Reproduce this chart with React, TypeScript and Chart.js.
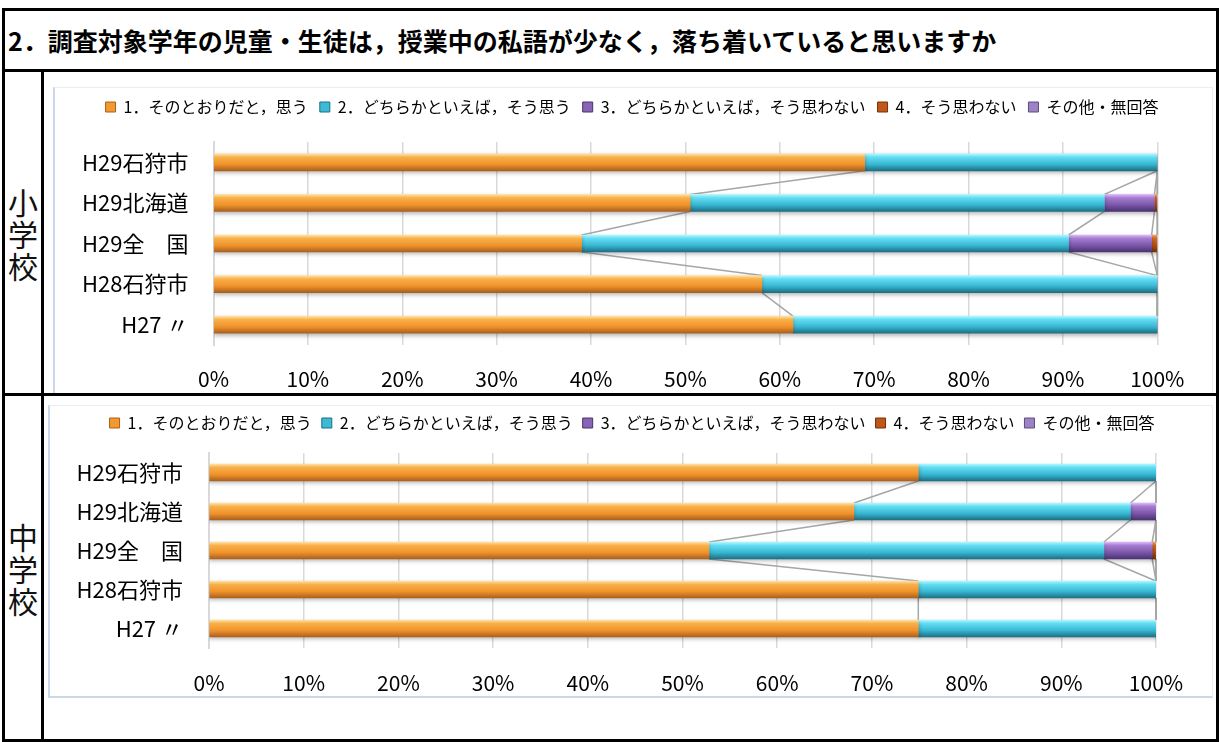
import React, { useEffect, useRef } from 'react';
import { Chart, registerables } from 'chart.js';

Chart.register(...registerables);

const FONT = "'Noto Sans CJK JP', 'Noto Sans', sans-serif";

const TITLE = '2．調査対象学年の児童・生徒は，授業中の私語が少なく，落ち着いていると思いますか';
const categories = ['H29石狩市', 'H29北海道', 'H29全　国', 'H28石狩市', 'H27 〃'];
const seriesNames = [
  '1．そのとおりだと，思う',
  '2．どちらかといえば，そう思う',
  '3．どちらかといえば，そう思わない',
  '4．そう思わない',
  'その他・無回答',
];
const xTickMin = 0;
const xTickMax = 100;
const xTickStep = 10;

// 小学校
const elemS1 = [69.0, 50.5, 39.0, 58.1, 61.4];
const elemS2 = [31.0, 43.9, 51.6, 41.9, 38.6];
const elemS3 = [0, 5.3, 8.8, 0, 0];
const elemS4 = [0, 0.3, 0.6, 0, 0];
const elemS5 = [0, 0, 0, 0, 0];

// 中学校
const juniorS1 = [74.9, 68.1, 52.8, 74.9, 74.9];
const juniorS2 = [25.1, 29.2, 41.7, 25.1, 25.1];
const juniorS3 = [0, 2.7, 5.1, 0, 0];
const juniorS4 = [0, 0, 0.4, 0, 0];
const juniorS5 = [0, 0, 0, 0, 0];

const GRADS = [
  ['#fde2a6', '#f9b04a', '#f0922a', '#a9601f'],
  ['#b2f6ff', '#62ddf3', '#38b6d2', '#1d6f84'],
  ['#dcbaf7', '#a77cd2', '#7a56a8', '#4a3270'],
  ['#f2a464', '#d46a20', '#b24f10', '#763206'],
  ['#dccaf0', '#ab94ce', '#8a72b4', '#5c4a80'],
];
const FLAT = ['#f29a2e', '#3cbad6', '#8a64b4', '#c0561a', '#9c84c4'];

const BAR = 17;

type PanelProps = {
  left: number;
  top: number;
  w: number;
  h: number;
  series: number[][];
  legendH: number;
  legendPad: number;
  legendCenter: number;
  plotLeft: number;
  plotRight: number;
  plotBottom: number;
  labelPad: number;
  tickPad: number;
};

function BarPanel(p: PanelProps) {
  const ref = useRef<HTMLCanvasElement>(null);
  useEffect(() => {
    const canvas = ref.current;
    if (!canvas) return;

    const grad = (idx: number) => (ctx: any) => {
      const ch = ctx.chart;
      const ys = ch.scales && ch.scales.y;
      if (!ys || ctx.type !== 'data' || ctx.dataIndex === undefined) return FLAT[idx];
      const yc = ys.getPixelForValue(ctx.dataIndex);
      if (!isFinite(yc)) return FLAT[idx];
      const s = GRADS[idx];
      const g = ch.ctx.createLinearGradient(0, yc - BAR / 2, 0, yc + BAR / 2);
      g.addColorStop(0, s[0]);
      g.addColorStop(0.2, s[1]);
      g.addColorStop(0.62, s[2]);
      g.addColorStop(1, s[3]);
      return g;
    };

    const legendFix = {
      id: 'legendFix',
      beforeInit(chart: any) {
        const lg = chart.legend;
        if (!lg) return;
        const fit = lg.fit;
        lg.fit = function () {
          fit.call(this);
          this.height = p.legendH;
        };
      },
      afterLayout(chart: any) {
        const lg = chart.legend;
        if (!lg) return;
        const dx = p.legendCenter - (lg.left + lg.right) / 2;
        lg.left += dx;
        lg.right += dx;
      },
    };

    const seriesLines = {
      id: 'seriesLines',
      beforeDatasetsDraw(chart: any) {
        const xs = chart.scales.x;
        const ys = chart.scales.y;
        const c = chart.ctx;
        const n = categories.length;
        let acc = new Array(n).fill(0);
        c.save();
        c.strokeStyle = '#a6a6a6';
        c.lineWidth = 1.5;
        chart.data.datasets.forEach((ds: any) => {
          acc = acc.map((a: number, i: number) => a + (ds.data[i] as number));
          for (let i = 0; i < n - 1; i++) {
            const x1 = xs.getPixelForValue(acc[i]);
            const y1 = ys.getPixelForValue(i) + BAR / 2;
            const x2 = xs.getPixelForValue(acc[i + 1]);
            const y2 = ys.getPixelForValue(i + 1) - BAR / 2;
            c.beginPath();
            c.moveTo(x1, y1);
            c.lineTo(x2, y2);
            c.stroke();
          }
        });
        c.restore();
        c.save();
        c.shadowColor = 'rgba(0,0,0,0.28)';
        c.shadowBlur = 4;
        c.shadowOffsetY = 2;
      },
      afterDatasetsDraw(chart: any) {
        chart.ctx.restore();
      },
    };

    const chart = new Chart(canvas, {
      type: 'bar',
      data: {
        labels: categories,
        datasets: p.series.map((d, i) => ({
          label: seriesNames[i],
          data: d,
          backgroundColor: grad(i) as any,
          borderWidth: 0,
          barThickness: BAR,
        })),
      },
      options: {
        indexAxis: 'y',
        responsive: false,
        animation: false,
        devicePixelRatio: 1,
        layout: { padding: { left: 0, right: p.w - p.plotRight, top: 0, bottom: 0 } },
        plugins: {
          tooltip: { enabled: false },
          legend: {
            display: true,
            position: 'top',
            align: 'center',
            labels: {
              boxWidth: 10,
              boxHeight: 10,
              padding: p.legendPad,
              color: '#1a1a1a',
              font: { family: FONT, size: 16 },
              generateLabels: () =>
                seriesNames.map((t, i) => ({
                  text: t,
                  fillStyle: FLAT[i],
                  strokeStyle: GRADS[i][3],
                  lineWidth: 1,
                  hidden: false,
                  datasetIndex: i,
                })),
            },
          },
        },
        scales: {
          x: {
            stacked: true,
            min: xTickMin,
            max: xTickMax,
            ticks: {
              stepSize: xTickStep,
              padding: p.tickPad,
              color: '#000',
              font: { family: FONT, size: 21 },
              callback: (v: any) => `${v}%`,
            },
            grid: { color: '#d9d9d9', lineWidth: 1.5, drawTicks: false },
            border: { display: false },
            afterFit: (s: any) => {
              s.height = p.h - p.plotBottom;
            },
          },
          y: {
            stacked: true,
            ticks: {
              padding: p.labelPad,
              color: '#000',
              font: { family: FONT, size: 22 },
            },
            grid: { display: false, drawTicks: false },
            border: { display: true, color: '#d9d9d9', width: 2 },
            afterFit: (s: any) => {
              s.width = p.plotLeft;
            },
          },
        },
      },
      plugins: [legendFix, seriesLines],
    });
    return () => chart.destroy();
  }, []);

  return (
    <div
      style={{
        position: 'absolute',
        left: p.left,
        top: p.top,
        width: p.w,
        height: p.h,
        boxSizing: 'border-box',
        borderTop: '1px solid #e8eef6',
        borderRight: '1px solid #e8eef6',
        borderLeft: '2px solid #cbd8ea',
        borderBottom: '2px solid #cbd8ea',
        background: '#fff',
      }}
    >
      <canvas
        ref={ref}
        width={p.w}
        height={p.h}
        style={{ position: 'absolute', left: -2, top: -1, width: p.w, height: p.h }}
      />
    </div>
  );
}

const line = (l: number, t: number, w: number, h: number) => (
  <div style={{ position: 'absolute', left: l, top: t, width: w, height: h, background: '#000' }} />
);

function SideLabel({ text, top, height }: { text: string; top: number; height: number }) {
  return (
    <div
      style={{
        position: 'absolute',
        left: 5,
        top,
        width: 36,
        height,
        display: 'flex',
        flexDirection: 'column',
        alignItems: 'center',
        justifyContent: 'center',
        fontFamily: FONT,
        fontSize: 30,
        lineHeight: '32px',
        color: '#111',
      }}
    >
      {text.split('').map((ch, i) => (
        <div key={i}>{ch}</div>
      ))}
    </div>
  );
}

export default function App() {
  return (
    <div
      style={{
        position: 'absolute',
        left: 0,
        top: 0,
        width: 1220,
        height: 742,
        background: '#fff',
        overflow: 'hidden',
      }}
    >
      <div
        style={{
          position: 'absolute',
          left: 8,
          top: 11,
          height: 58,
          display: 'flex',
          alignItems: 'center',
          fontFamily: FONT,
          fontWeight: 700,
          fontSize: 25,
          color: '#000',
          whiteSpace: 'nowrap',
        }}
      >
        {TITLE}
      </div>

      <BarPanel
        left={53}
        top={87}
        w={1160}
        h={308}
        series={[elemS1, elemS2, elemS3, elemS4, elemS5]}
        legendH={55}
        legendPad={12}
        legendCenter={579}
        plotLeft={160.5}
        plotRight={1104.3}
        plotBottom={258}
        labelPad={25}
        tickPad={21}
      />
      <BarPanel
        left={48}
        top={405}
        w={1165}
        h={293}
        series={[juniorS1, juniorS2, juniorS3, juniorS4, juniorS5]}
        legendH={48}
        legendPad={10}
        legendCenter={584}
        plotLeft={161}
        plotRight={1108}
        plotBottom={243}
        labelPad={26}
        tickPad={22}
      />

      <SideLabel text="小学校" top={72} height={321} />
      <SideLabel text="中学校" top={396} height={343} />

      {line(2, 8, 1217, 3)}
      {line(2, 8, 3, 734)}
      {line(1216, 8, 3, 734)}
      {line(2, 69, 1217, 3)}
      {line(2, 393, 1217, 3)}
      {line(2, 739, 1217, 3)}
      {line(41, 69, 3, 673)}
    </div>
  );
}
